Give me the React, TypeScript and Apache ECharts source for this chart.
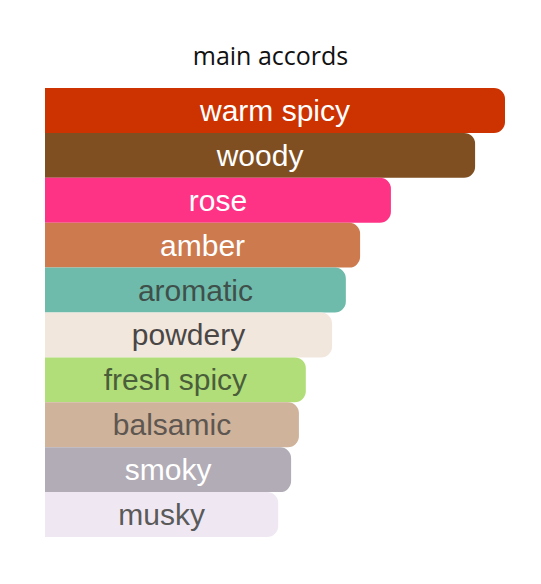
import {useEffect, useRef} from 'react';
import * as echarts from 'echarts';

const accords = ['warm spicy', 'woody', 'rose', 'amber', 'aromatic', 'powdery', 'fresh spicy', 'balsamic', 'smoky', 'musky'];
const strengths = [100, 93.5, 75.2, 68.5, 65.4, 62.4, 56.7, 55.2, 53.5, 50.7];
const barColors = ['#cc3300', '#7f4f21', '#fe3386', '#cc7a4e', '#6fbbab', '#f1e7dd', '#b2de7a', '#cfb39b', '#b1acb6', '#efe8f3'];
const textColors = ['#ffffff', '#ffffff', '#ffffff', '#ffffff', '#3f504b', '#4a4646', '#4b5e3a', '#5e5650', '#ffffff', '#5a5a5a'];

const App = () => {
    const chartRef = useRef<HTMLDivElement>(null);

    useEffect(() => {
        if (!chartRef.current) return;
        const chart = echarts.init(chartRef.current, undefined, {renderer: 'svg'});
        chart.setOption({
            animation: false,
            title: {
                text: 'main accords',
                left: 'center',
                top: 29,
                textStyle: {
                    fontFamily: 'Open Sans',
                    fontSize: 25,
                    fontWeight: 'normal',
                    color: '#111',
                },
            },
            grid: {left: 37, right: 28, top: 80, bottom: 39},
            xAxis: {type: 'value', min: 0, max: 100, show: false},
            yAxis: {type: 'category', inverse: true, data: accords, show: false},
            series: [
                {
                    type: 'bar',
                    barCategoryGap: 0,
                    data: strengths.map((v, i) => ({
                        value: v,
                        itemStyle: {color: barColors[i], borderRadius: [0, 11, 11, 0]},
                        label: {color: textColors[i]},
                    })),
                    label: {
                        show: true,
                        position: 'inside',
                        formatter: (p: any) => accords[p.dataIndex],
                        fontFamily: 'Liberation Sans',
                        fontSize: 30,
                    },
                },
            ],
        });
        return () => {
            chart.dispose();
        };
    }, []);

    return <div ref={chartRef} style={{width: 525, height: 568}} />;
};

export default App;
